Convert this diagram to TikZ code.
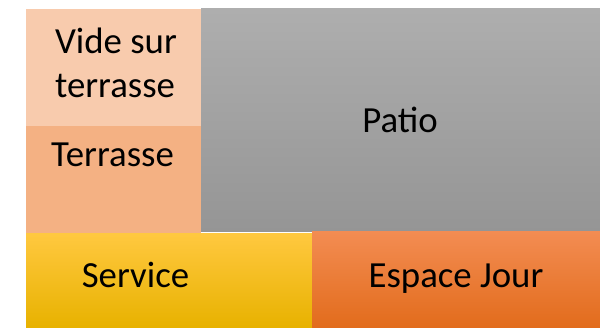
\documentclass[tikz,border=0pt]{standalone}
\usepackage{fontspec}
\setmainfont{Carlito}
\begin{document}
\begin{tikzpicture}[x=1pt,y=1pt,
  zone/.style={anchor=south west,inner sep=0pt,outer sep=0pt,draw=none},
  lbl/.style={anchor=base,inner sep=0pt,font=\fontsize{36.8}{44}\selectfont,text=black}]
\useasboundingbox (0,0) rectangle (600,327);
\fill[white] (0,0) rectangle (600,327);
\definecolor{vide}{HTML}{F8CBAD}
\definecolor{terr}{HTML}{F4B183}
\definecolor{patioT}{HTML}{AEAEAE}
\definecolor{patioB}{HTML}{959595}
\definecolor{servT}{HTML}{FFC83F}
\definecolor{servM}{HTML}{FFC400}
\definecolor{servB}{HTML}{E8B200}
\definecolor{espT}{HTML}{F38C52}
\definecolor{espM}{HTML}{F67D2E}
\definecolor{espB}{HTML}{E26C1C}
\node[zone,fill=vide,minimum width=175pt,minimum height=117pt] (videbox) at (26,201) {};
\node[zone,fill=terr,minimum width=175pt,minimum height=107pt] (terrbox) at (26,94) {};
\node[zone,top color=patioT,bottom color=patioB,minimum width=399pt,minimum height=223pt] (patiobox) at (201,95) {};
\node[zone,top color=servT,middle color=servM,bottom color=servB,minimum width=286pt,minimum height=93pt] (servbox) at (26,0) {};
\node[zone,top color=espT,middle color=espM,bottom color=espB,minimum width=288pt,minimum height=95pt] (espbox) at (312,0) {};
\node[lbl] (vide1) at (116,273) {Vide sur};
\node[lbl] (vide2) at (115,229) {terrasse};
\node[lbl] (terr) at (112.5,160) {Terrasse};
\node[lbl] (patio) at (400,194) {Patio};
\node[lbl] (serv) at (135.5,40) {Service};
\node[lbl] (esp) at (456,40) {Espace Jour};
\end{tikzpicture}
\end{document}
